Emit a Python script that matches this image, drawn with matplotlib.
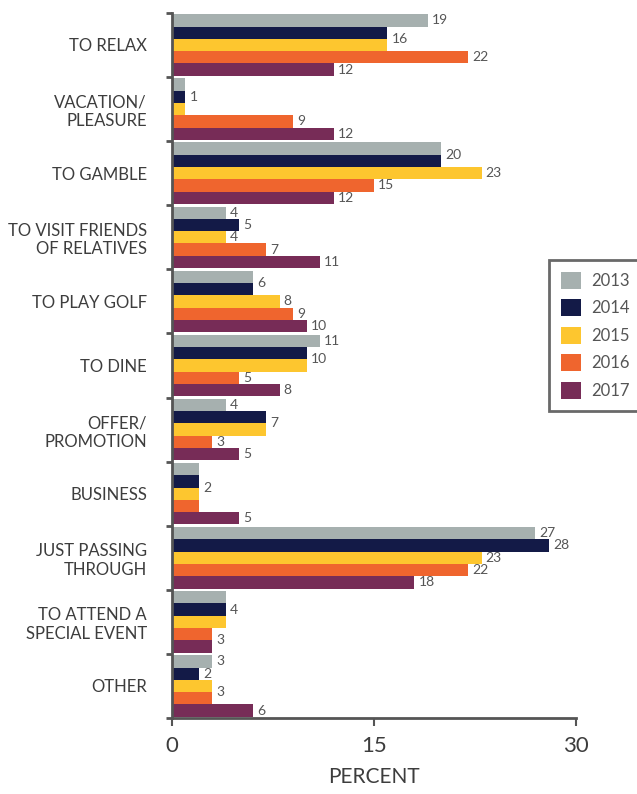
import numpy as np
import matplotlib.pyplot as plt

# reasons for visiting, percent of respondents by year
categories = ["TO RELAX", "VACATION/\nPLEASURE", "TO GAMBLE",
              "TO VISIT FRIENDS\nOF RELATIVES", "TO PLAY GOLF", "TO DINE",
              "OFFER/\nPROMOTION", "BUSINESS", "JUST PASSING\nTHROUGH",
              "TO ATTEND A\nSPECIAL EVENT", "OTHER"]
years = ["2013", "2014", "2015", "2016", "2017"]
v2013 = [19, 1, 20, 4, 6, 11, 4, 2, 27, 4, 3]
v2014 = [16, 1, 20, 5, 6, 10, 7, 2, 28, 4, 2]
v2015 = [16, 1, 23, 4, 8, 10, 7, 2, 23, 4, 3]
v2016 = [22, 9, 15, 7, 9, 5, 3, 2, 22, 3, 3]
v2017 = [12, 12, 12, 11, 10, 8, 5, 5, 18, 3, 6]
colors = ["#A6B0AF", "#131A47", "#FDC62F", "#EF652E", "#772C57"]

series = np.array([v2013, v2014, v2015, v2016, v2017])

plt.rcParams['font.family'] = ['Lato', 'DejaVu Sans']
txt = "#3d3d3d"
fig = plt.figure(figsize=(6.37, 7.94), dpi=100)
ax = fig.add_axes([0.270, 0.0957, 0.634, 0.888])

h = 0.192
y = np.arange(len(categories))
for k, (yr, c) in enumerate(zip(years, colors)):
    ax.barh(y + (k - 2) * h, series[k], height=h, color=c, label=yr)

# value labels: one label per run of equal neighbouring values
for i in range(len(categories)):
    k = 0
    while k < 5:
        j = k
        while j + 1 < 5 and series[j + 1, i] == series[k, i]:
            j += 1
        yc = i + ((k + j) / 2 - 2) * h
        ax.annotate(str(series[k, i]), (series[k, i], yc), xytext=(3, 0),
                    textcoords="offset points", va="center", ha="left",
                    fontsize=10, color="#555555")
        k = j + 1

ax.set_ylim(len(categories) - 0.5, -0.5)
ax.set_xlim(0, 30)
ax.set_yticks(np.arange(-0.5, len(categories) + 0.5, 1))
ax.set_yticklabels([])
ax.set_yticks(y, minor=True)
ax.set_yticklabels(categories, minor=True, fontsize=12, color=txt,
                   ha="right", linespacing=1.2)
ax.tick_params(axis="y", which="minor", length=0, pad=18)
ax.tick_params(axis="y", which="major", length=4, width=2, color="#555555",
               direction="out")
ax.set_xticks([0, 15, 30])
ax.tick_params(axis="x", length=6, width=1.5, color="#555555", pad=7,
               labelsize=16, labelcolor=txt)
ax.set_xlabel("PERCENT", fontsize=15, color=txt, labelpad=8)

for s in ["top", "right"]:
    ax.spines[s].set_visible(False)
for s in ["left", "bottom"]:
    ax.spines[s].set_color("#555555")
    ax.spines[s].set_linewidth(2)

leg = fig.legend(loc="upper left", bbox_to_anchor=(0.862, 0.6725),
                 borderaxespad=0, fontsize=12, frameon=True, fancybox=False,
                 handlelength=1.2, handleheight=1.2, labelspacing=0.62,
                 borderpad=0.7, handletextpad=0.6)
leg.get_frame().set_edgecolor("#444444")
leg.get_frame().set_linewidth(2)
for t in leg.get_texts():
    t.set_color("#555555")

fig.savefig("out.png", dpi=100)
